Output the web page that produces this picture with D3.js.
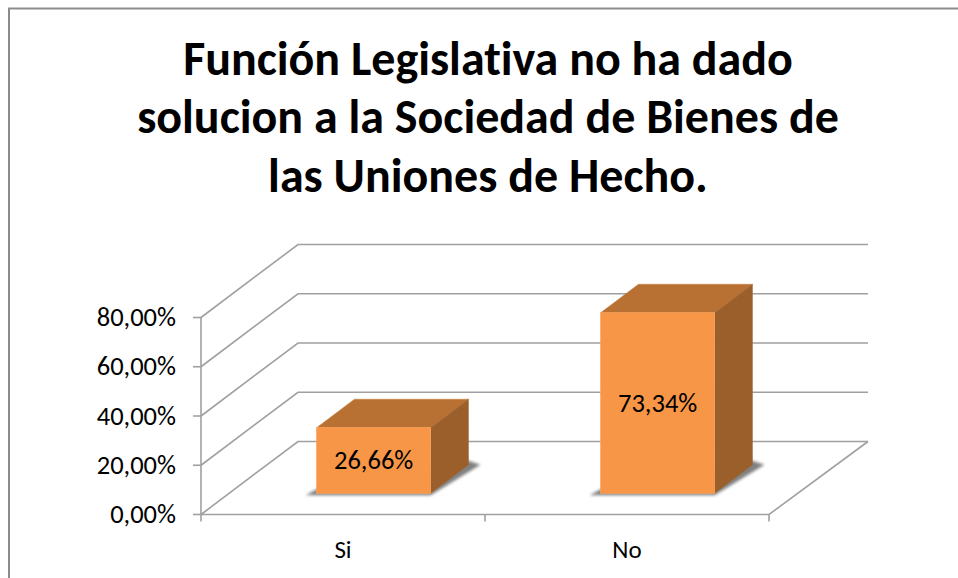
<!DOCTYPE html>
<html>
<head>
<meta charset="utf-8">
<script src="https://cdn.jsdelivr.net/npm/d3@7"></script>
<style>
  html, body { margin: 0; padding: 0; background: #fff; }
  svg { display: block; }
  text { font-family: Carlito, Lato, "Open Sans", sans-serif; fill: #000; font-variant-ligatures: none; }
</style>
</head>
<body>
<div id="chart"></div>
<script>
const categories = ["Si", "No"];
const values = [26.66, 73.34];
const valueLabels = ["26,66%", "73,34%"];
const yTicks = [0, 20, 40, 60, 80];
const titleLines = [
    "Función Legislativa no ha dado",
    "solucion a la Sociedad de Bienes de",
    "las Uniones de Hecho."
];

const width = 958, height = 578;

const svg = d3.select("#chart").append("svg")
    .attr("width", width)
    .attr("height", height);

const defs = svg.append("defs");
defs.append("filter").attr("id", "bar-shadow")
    .attr("x", "-30%").attr("y", "-50%").attr("width", "160%").attr("height", "200%")
    .append("feGaussianBlur").attr("stdDeviation", 1.6);

// chart frame, the right side is cut off in the original
svg.append("path")
    .attr("d", `M9,${height} V8.5 H${width}`)
    .attr("fill", "none")
    .attr("stroke", "#8c8c8c")
    .attr("stroke-width", 2);

svg.append("g").selectAll("text")
    .data(titleLines)
    .join("text")
    .attr("x", 488)
    .attr("y", (d, i) => 75 + i * 58.25)
    .attr("text-anchor", "middle")
    .style("font-size", "48px")
    .style("font-weight", "bold")
    .text(d => d);

const x = d3.scaleBand().domain(categories).range([201, 769]).paddingInner(0).paddingOuter(0);
const y = d3.scaleLinear().domain([0, 80]).range([514.5, 317.5]);
// depth axis: 0 is the front of the floor, 1 the back wall
const depthX = d3.scaleLinear().domain([0, 1]).range([0, 97]);
const depthY = d3.scaleLinear().domain([0, 1]).range([0, -73]);
const backRight = 868;

const gridColor = "#a0a0a0";
const grid = svg.append("g").attr("fill", "none").attr("stroke", gridColor).attr("stroke-width", 1.6);

// gridlines: side wall + back wall
grid.selectAll("path.gridline")
    .data(yTicks)
    .join("path")
    .attr("class", "gridline")
    .attr("d", d => `M${x.range()[0]},${y(d)} L${x.range()[0] + depthX(1)},${y(d) + depthY(1)} H${backRight}`);

// floor right edge and front edge
grid.append("path")
    .attr("d", `M${x.range()[0]},${y(0)} H${x.range()[1]} L${backRight},${y(0) + depthY(1)}`);

// value axis
grid.append("path").attr("d", `M${x.range()[0]},${y(80)} V${y(0) + 7}`);
grid.selectAll("line.ytick")
    .data(yTicks)
    .join("line")
    .attr("class", "ytick")
    .attr("x1", x.range()[0] - 8).attr("x2", x.range()[0])
    .attr("y1", d => y(d)).attr("y2", d => y(d));

// category ticks
const catEdges = [x(categories[1]), x.range()[1]];
grid.selectAll("line.xtick")
    .data(catEdges)
    .join("line")
    .attr("class", "xtick")
    .attr("x1", d => d).attr("x2", d => d)
    .attr("y1", y(0)).attr("y2", y(0) + 7);

svg.append("g").selectAll("text")
    .data(yTicks)
    .join("text")
    .attr("x", 176)
    .attr("y", d => y(d) + 8.5)
    .attr("text-anchor", "end")
    .style("font-size", "26.5px")
    .text(d => d3.format(".2f")(d).replace(".", ",") + "%");

svg.append("g").selectAll("text")
    .data(categories)
    .join("text")
    .attr("x", d => x(d) + x.bandwidth() / 2)
    .attr("y", 557.5)
    .attr("text-anchor", "middle")
    .style("font-size", "25px")
    .text(d => d);

// bars
const barWidth = 114;
const barShift = 2.5;
const depthFront = 0.29, depthBack = 0.68;

const bars = svg.append("g").selectAll("g")
    .data(categories.map((c, i) => ({cat: c, value: values[i], label: valueLabels[i]})))
    .join("g");

const left = d => x(d.cat) + x.bandwidth() / 2 - barWidth / 2 + depthX(depthFront) + barShift;
const right = d => left(d) + barWidth;
const base = y(0) + depthY(depthFront);
const barH = d => y(0) - y(d.value);
const dx = depthX(depthBack - depthFront);
const dy = depthY(depthBack - depthFront);

bars.append("polygon")
    .attr("filter", "url(#bar-shadow)")
    .attr("fill", "#808080")
    .attr("points", d => [
        [left(d) - 11, base + 2],
        [left(d), base - 4],
        [right(d) + dx, base + dy - 4],
        [right(d) + dx + 12, base + dy],
        [right(d), base + 2]
    ].join(" "));

bars.append("polygon")
    .attr("fill", "#b97033")
    .attr("stroke", "#c27a3b").attr("stroke-width", 0.5)
    .attr("points", d => {
        const t = base - barH(d);
        return [[left(d), t], [right(d), t], [right(d) + dx, t + dy], [left(d) + dx, t + dy]].join(" ");
    });

bars.append("polygon")
    .attr("fill", "#9a5f2b")
    .attr("stroke", "#a0652f").attr("stroke-width", 0.5)
    .attr("points", d => {
        const t = base - barH(d);
        return [[right(d), t], [right(d) + dx, t + dy], [right(d) + dx, base + dy], [right(d), base]].join(" ");
    });

bars.append("rect")
    .attr("x", d => left(d))
    .attr("y", d => base - barH(d))
    .attr("width", barWidth)
    .attr("height", d => barH(d))
    .attr("fill", "#f79646")
    .attr("stroke", "#fba35c").attr("stroke-width", 0.7);

bars.append("text")
    .attr("x", d => left(d) + barWidth / 2)
    .attr("y", d => base - barH(d) / 2 + 8.5)
    .attr("text-anchor", "middle")
    .style("font-size", "26.5px")
    .text(d => d.label);
</script>
</body>
</html>
